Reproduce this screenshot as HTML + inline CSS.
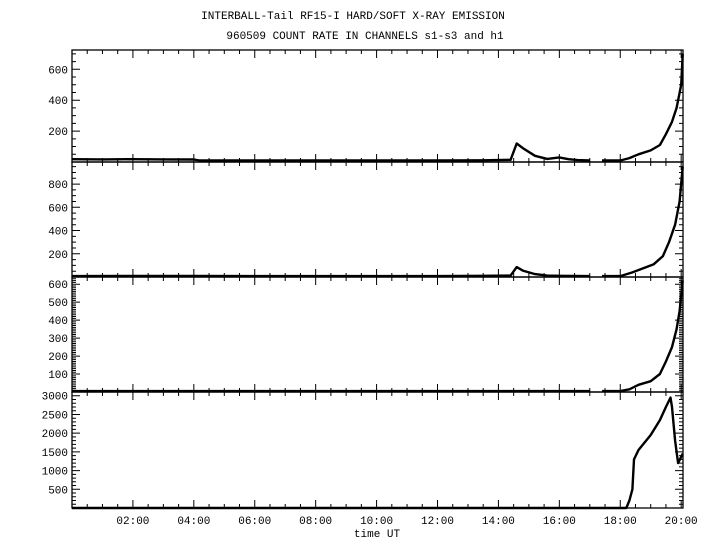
<!DOCTYPE html>
<html><head><meta charset="utf-8"><style>
body{margin:0;background:#fff;}
svg{display:block;font-family:"Liberation Mono",monospace;}
text{font-size:11px;fill:#000;}
</style></head><body>
<svg id="c" width="720" height="550">
<text x="353" y="19" text-anchor="middle">INTERBALL-Tail RF15-I HARD/SOFT X-RAY EMISSION</text>
<text x="365" y="39" text-anchor="middle">960509  COUNT RATE IN CHANNELS s1-s3 and h1</text>
<text x="377" y="537" text-anchor="middle">time UT</text>
</svg>
<script>
const xTickLabels=["02:00","04:00","06:00","08:00","10:00","12:00","14:00","16:00","18:00","20:00"];
const xTickHours=[2,4,6,8,10,12,14,16,18,20];
const s1Times=[0,1,2,3,4,4.2,6,8,10,12,13.5,14.4,14.6,14.8,15.2,15.6,16,16.3,16.6,17,null,17.4,18,18.3,18.6,19,19.3,19.5,19.7,19.85,20,20.05];
const s1Vals=[18,17,18,17,16,10,10,10,10,10,11,14,120,90,40,20,30,18,12,10,null,10,10,25,50,75,110,180,260,350,500,700];
const s2Times=[0,2,4,6,8,10,12,13.5,14.4,14.6,14.8,15.2,15.6,16,17,null,17.4,18,18.4,18.8,19.1,19.4,19.6,19.8,19.95,20.05];
const s2Vals=[8,9,9,8,8,8,8,10,12,85,55,25,12,10,8,null,8,8,40,80,110,180,300,450,650,950];
const s3Times=[0,2,4,6,8,10,12,14,16,17,null,17.4,18,18.3,18.6,19,19.3,19.5,19.7,19.85,19.95,20.05];
const s3Vals=[5,5,5,5,5,5,5,5,5,5,null,5,5,15,40,60,100,170,250,350,450,620];
const h1Times=[0,14,15,18,18.2,18.3,18.4,18.45,18.6,18.8,19,19.3,19.5,19.65,19.7,19.8,19.9,20.05];
const h1Vals=[0,0,0,0,0,200,500,1300,1550,1750,1950,2350,2700,2950,2700,1800,1200,1450];
const panels=[
 {name:"s1",t:s1Times,v:s1Vals,top:50,bot:162,max:725,ticks:[200,400,600],minor:50},
 {name:"s2",t:s2Times,v:s2Vals,top:162,bot:277,max:990,ticks:[200,400,600,800],minor:50},
 {name:"s3",t:s3Times,v:s3Vals,top:277,bot:392,max:640,ticks:[100,200,300,400,500,600],minor:10},
 {name:"h1",t:h1Times,v:h1Vals,top:392,bot:508,max:3100,ticks:[500,1000,1500,2000,2500,3000],minor:100}
];
const svg=document.getElementById('c');
const NS="http://www.w3.org/2000/svg";
const X0=72,X1=683,TMAX=20.06;
function xs(t){return X0+t/TMAX*(X1-X0);}
function mk(tag,attrs){const e=document.createElementNS(NS,tag);for(const k in attrs)e.setAttribute(k,attrs[k]);svg.appendChild(e);return e;}
panels.forEach(p=>{
 const ys=v=>p.bot-v/p.max*(p.bot-p.top);
 const fr=mk('rect',{x:X0,y:p.top,width:X1-X0,height:p.bot-p.top,fill:'none',stroke:'#000','stroke-width':1.3});
 
 
 let d='';
 for(let m=0;m<=40;m++){const x=xs(m*0.5);const L=(m%4==0)?8:4;
  d+=`M${x},${p.top}v${L}M${x},${p.bot}v${-L}`;}
 for(let v=p.minor;v<p.max;v+=p.minor){const y=ys(v);const major=p.ticks.some(t=>Math.abs(t-v)<1e-6);const L=major?8:4;
  d+=`M${X0},${y}h${L}M${X1},${y}h${-L}`;}
 const tk=mk('path',{d:d,stroke:'#000','stroke-width':1,fill:'none'});
 
 
 p.ticks.forEach(v=>{const t=mk('text',{x:X0-4,y:ys(v)+4,'text-anchor':'end'});t.textContent=v;
  
  });
 let ld='',pen=false;
 for(let i=0;i<p.t.length;i++){if(p.t[i]===null){pen=false;continue;}
  ld+=(pen?'L':'M')+xs(p.t[i]).toFixed(1)+','+ys(p.v[i]).toFixed(1);pen=true;}
 const ln=mk('path',{d:ld,stroke:'#000','stroke-width':2.4,fill:'none','stroke-linejoin':'round'});
 
 
});
xTickHours.forEach((h,i)=>{const t=mk('text',{x:xs(h),y:524,'text-anchor':'middle'});t.textContent=xTickLabels[i];
 
 });
</script>
</body></html>
